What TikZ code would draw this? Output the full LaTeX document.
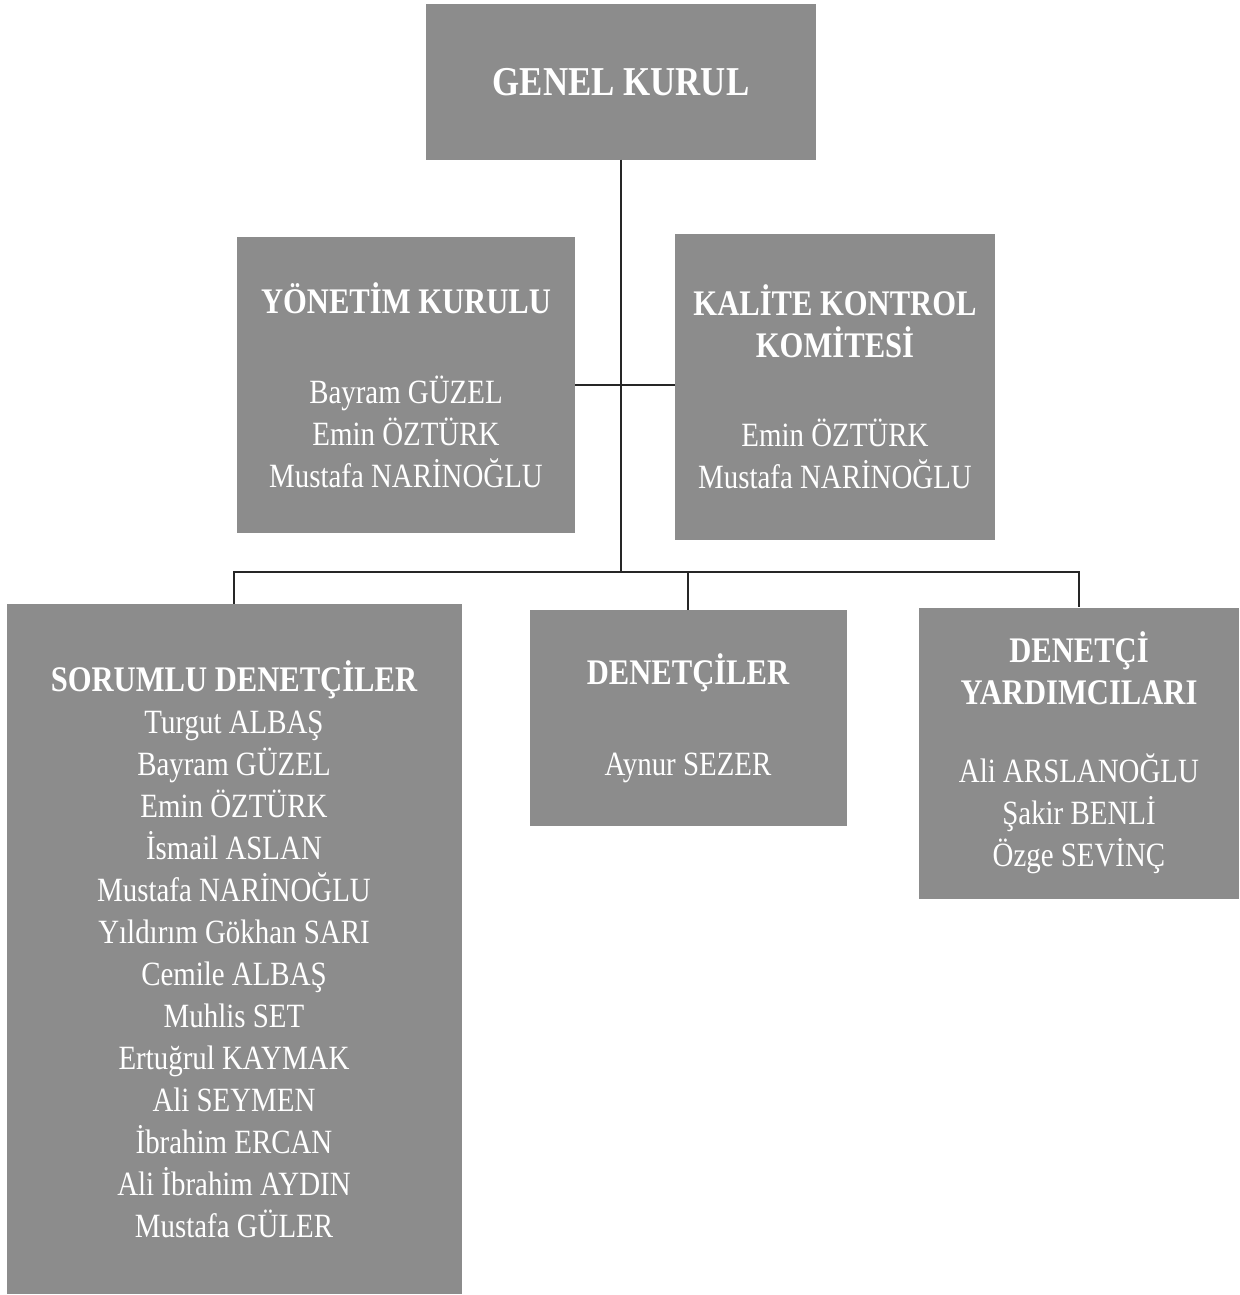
\documentclass[tikz,border=0pt]{standalone}
\usepackage{fontspec}
\setmainfont{Liberation Serif}[FakeStretch=0.85]
\newcommand{\hd}[1]{{\bfseries\fontsize{36}{42}\selectfont #1}}
\begin{document}
\begin{tikzpicture}[x=1pt,y=-1pt]
        \tikzstyle{unit}=[fill=black!45,text=white,align=center,inner sep=0pt,font=\fontsize{34}{42}\selectfont]
        \tikzstyle{edge}=[draw,line width=1.5pt,black!85]
        \useasboundingbox (0,0) rectangle (1239,1295);
       \begin{scope}
         \node [unit,minimum width=390,minimum height=155,font=\fontsize{41}{42}\selectfont\bfseries] (gk) at (621,82) {GENEL KURUL};
         \node [unit,minimum width=338,minimum height=296] (yk) at (406,385) {\hd{YÖNETİM KURULU}\\[48pt]Bayram GÜZEL\\Emin ÖZTÜRK\\Mustafa NARİNOĞLU};
         \node [unit,minimum width=320,minimum height=306] (kk) at (835,387) {\hd{KALİTE KONTROL}\\\hd{KOMİTESİ}\\[47pt]Emin ÖZTÜRK\\Mustafa NARİNOĞLU};
         \node [unit,minimum width=455,minimum height=690] (sd) at (234,949) {\hd{SORUMLU DENETÇİLER}\\Turgut ALBAŞ\\Bayram GÜZEL\\Emin ÖZTÜRK\\İsmail ASLAN\\Mustafa NARİNOĞLU\\Yıldırım Gökhan SARI\\Cemile ALBAŞ\\Muhlis SET\\Ertuğrul KAYMAK\\Ali SEYMEN\\İbrahim ERCAN\\Ali İbrahim AYDIN\\Mustafa GÜLER};
         \node [unit,minimum width=317,minimum height=216] (dn) at (688,718) {\hd{DENETÇİLER}\\[49pt]Aynur SEZER};
         \node [unit,minimum width=320,minimum height=291] (dy) at (1079,753) {\hd{DENETÇİ}\\\hd{YARDIMCILARI}\\[36pt]Ali ARSLANOĞLU\\Şakir BENLİ\\Özge SEVİNÇ};
         \coordinate (bus) at (623,572);
         \path[edge] (gk.south) -- (gk.south |- bus);
         \path[edge] (yk.east) -- (yk.east -| kk.west);
         \path[edge] (sd.north) -- (sd.north |- bus) -- (dy.north |- bus) -- (dy.north);
         \path[edge] (dn.north) -- (dn.north |- bus);
        \end{scope}
\end{tikzpicture}
\end{document}
